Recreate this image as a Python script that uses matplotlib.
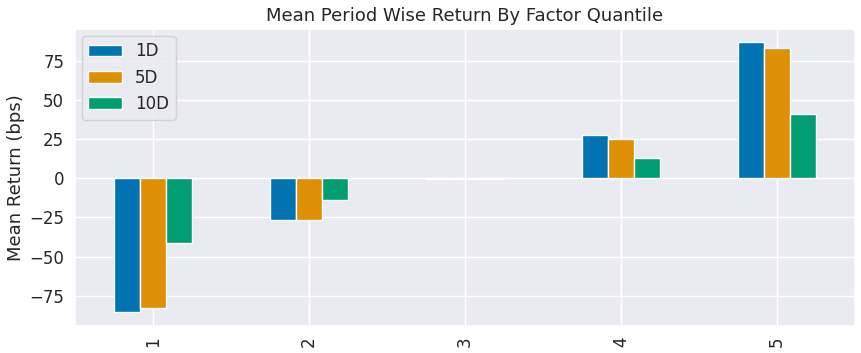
import matplotlib
matplotlib.use("Agg")
import matplotlib.pyplot as plt
from matplotlib.ticker import MultipleLocator
import seaborn as sns
import pandas as pd

quantiles = [1, 2, 3, 4, 5]
ret_1d = [-85.6, -26.5, -0.4, 27.7, 86.8]
ret_5d = [-82.9, -26.5, -0.4, 25.2, 83.3]
ret_10d = [-41.6, -13.8, -0.2, 13.1, 41.3]

sns.set_theme(style="darkgrid", palette="colorblind")
plt.rcParams["font.family"] = ["DejaVu Sans"]

df = pd.DataFrame({"1D": ret_1d, "5D": ret_5d, "10D": ret_10d}, index=quantiles)

fig, ax = plt.subplots(figsize=(8.61, 3.53), dpi=100)
df.plot.bar(ax=ax, edgecolor="white", linewidth=1)

ax.set_title("Mean Period Wise Return By Factor Quantile", fontsize=13)
ax.set_ylabel("Mean Return (bps)", fontsize=13, labelpad=3)
ax.set_xlabel("")
ax.yaxis.set_major_locator(MultipleLocator(25))
ax.tick_params(axis="y", labelsize=12, pad=1.7)
ax.tick_params(axis="x", labelsize=12, pad=1.5)
ax.legend(loc="upper left", fontsize=12, borderaxespad=0.4)

fig.subplots_adjust(left=0.087, right=0.993, top=0.918, bottom=0.077)
fig.savefig("out.png", dpi=100)
